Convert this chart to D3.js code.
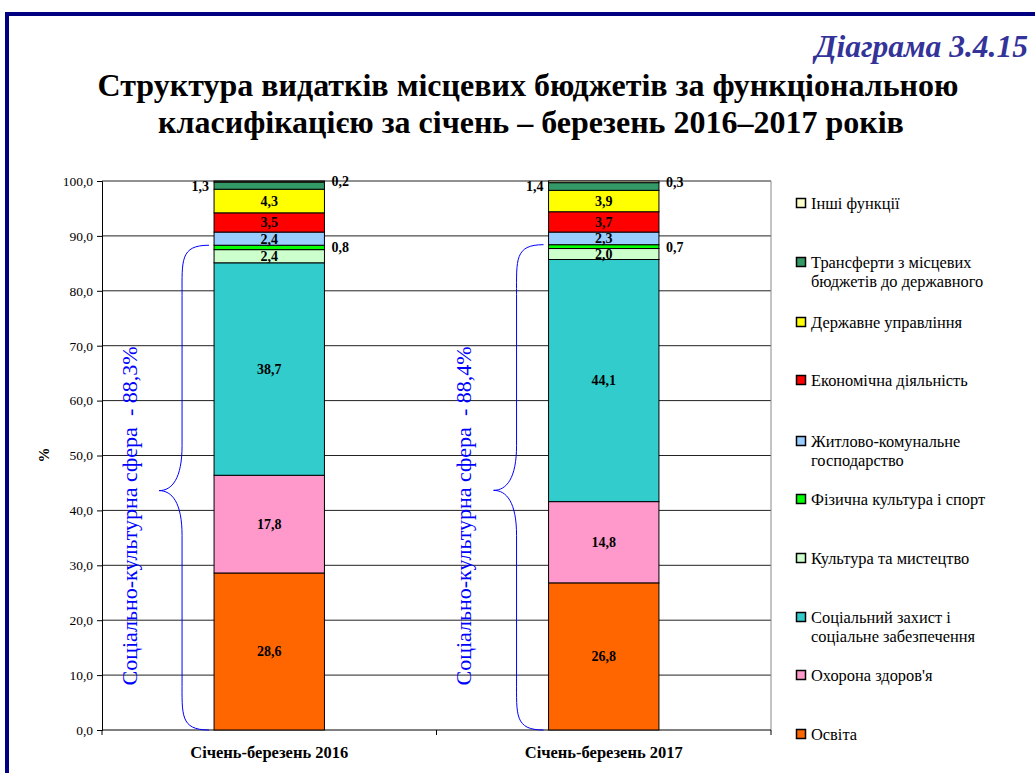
<!DOCTYPE html>
<html><head><meta charset="utf-8">
<script src="https://cdn.jsdelivr.net/npm/d3@7"></script>
<style>body{margin:0;background:#fff}svg{display:block}</style>
</head><body><svg id="c" width="1035" height="773"></svg>
<script>
const categories = ["Січень-березень 2016", "Січень-березень 2017"];
const seriesNames = ["Освіта","Охорона здоров'я","Соціальний захист і соціальне забезпечення","Культура та мистецтво","Фізична культура і спорт","Житлово-комунальне господарство","Економічна діяльність","Державне управління","Трансферти з місцевих бюджетів до державного","Інші функції"];
const values2016 = [28.6,17.8,38.7,2.4,0.8,2.4,3.5,4.3,1.3,0.2];
const values2017 = [26.8,14.8,44.1,2.0,0.7,2.3,3.7,3.9,1.4,0.3];
const colors = ["#FF6600","#FF99CC","#33CCCC","#CCFFCC","#00FF00","#99CCFF","#FF0000","#FFFF00","#339966","#FFFFCC"];
const yTicks = [0,10,20,30,40,50,60,70,80,90,100];
const sphereLabels = ["Соціально-культурна сфера  - 88,3%","Соціально-культурна сфера  - 88,4%"];
const sphereTotals = [88.3, 88.4];
const legendLines = [["Інші функції"],["Трансферти з місцевих","бюджетів до державного"],["Державне управління"],["Економічна діяльність"],["Житлово-комунальне","господарство"],["Фізична культура і спорт"],["Культура та мистецтво"],["Соціальний захист і","соціальне забезпечення"],["Охорона здоров'я"],["Освіта"]];

const FONT = "Liberation Serif";
const svg = d3.select("#c");
function T(sel){ return sel.append("text").attr("font-family",FONT); }
// frame
svg.append("line").attr("x1",5).attr("x2",1035).attr("y1",14).attr("y2",14).attr("stroke","#000080").attr("stroke-width",4);
svg.append("line").attr("x1",7).attr("x2",7).attr("y1",12).attr("y2",773).attr("stroke","#000080").attr("stroke-width",4);

T(svg).attr("x",1028).attr("y",57).attr("text-anchor","end").attr("font-size",31.5).attr("font-weight","bold").attr("font-style","italic").attr("fill","#333399").text("Діаграма 3.4.15");
T(svg).attr("x",528).attr("y",96).attr("text-anchor","middle").attr("font-size",32).attr("font-weight","bold").text("Структура видатків місцевих бюджетів за функціональною");
T(svg).attr("x",531).attr("y",133).attr("text-anchor","middle").attr("font-size",32).attr("font-weight","bold").text("класифікацією за січень – березень 2016–2017 років");

const x0 = 102, x1 = 771;
const x = d3.scaleBand().domain(categories).range([x0,x1]).paddingInner(0.67).paddingOuter(0.335);
const y = d3.scaleLinear().domain([0,100]).range([730,181]);
const fmt = v => v.toFixed(1).replace(".",",");

// gridlines
svg.append("g").selectAll("line").data(yTicks.filter(t=>t>0)).join("line")
  .attr("x1",x0).attr("x2",x1).attr("y1",d=>y(d)).attr("y2",d=>y(d)).attr("stroke","#222").attr("stroke-width",1);
svg.append("line").attr("x1",x1).attr("x2",x1).attr("y1",y(100)).attr("y2",y(0)).attr("stroke","#888");

// y axis
const yAxis = d3.axisLeft(y).tickValues(yTicks).tickFormat(fmt).tickSize(5).tickPadding(4);
const ga = svg.append("g").attr("transform",`translate(${x0},0)`).call(yAxis).attr("font-family",FONT);
ga.selectAll("text").attr("font-size",13.5).attr("fill","#000").attr("font-family",FONT);
ga.select(".domain").attr("stroke","#000");
// x axis
const gx = svg.append("g").attr("transform",`translate(0,${y(0)})`);
gx.append("line").attr("x1",x0).attr("x2",x1).attr("stroke","#000");
gx.selectAll("line.t").data([x0,(x0+x1)/2,x1]).join("line").attr("class","t").attr("x1",d=>d).attr("x2",d=>d).attr("y1",0).attr("y2",5).attr("stroke","#000");
categories.forEach(c=>{
  T(gx).attr("x",x(c)+x.bandwidth()/2).attr("y",28).attr("text-anchor","middle").attr("font-size",16.5).attr("font-weight","bold").text(c);
});

T(svg).attr("transform","translate(49,455) rotate(-90)").attr("text-anchor","middle").attr("font-size",15).attr("font-weight","bold").text("%");

// bars
const all = [values2016, values2017];
all.forEach((vals,ci)=>{
  const cat = categories[ci];
  const stack = d3.cumsum(vals);
  const g = svg.append("g");
  const bx = x(cat), bw = x.bandwidth();
  vals.forEach((v,i)=>{
    const top = stack[i], bot = top - v;
    g.append("rect").attr("x",bx).attr("width",bw).attr("y",y(top)).attr("height",y(bot)-y(top))
      .attr("fill",colors[i]).attr("stroke","#000").attr("stroke-width",1);
  });
  vals.forEach((v,i)=>{
    const top = stack[i], bot = top - v, mid = y((top+bot)/2);
    let tx = bx+bw/2, anchor="middle";
    if (i===8) { tx = bx-5; anchor="end"; }
    else if (i===9) { tx = bx+bw+7; anchor="start"; }
    else if (i===4) { tx = bx+bw+7; anchor="start"; }
    T(g).attr("x",tx).attr("y",mid).attr("dy","0.35em").attr("text-anchor",anchor)
      .attr("font-size",14).attr("font-weight","bold").text(fmt(v));
  });
  // brace
  const bxr = bx - 5, tipX = bx - 55, vx = bx - 32;
  const yt = y(sphereTotals[ci]), yb = y(0), ym = (yt+yb)/2 + 3;
  const p = d3.path();
  p.moveTo(bxr, yt);
  p.bezierCurveTo(vx-2, yt, vx, yt+15, vx, yt+50);
  p.lineTo(vx, ym-45);
  p.bezierCurveTo(vx, ym-12, vx-10, ym, tipX, ym);
  p.bezierCurveTo(vx-10, ym, vx, ym+12, vx, ym+45);
  p.lineTo(vx, yb-50);
  p.bezierCurveTo(vx, yb-15, vx-2, yb, bxr, yb);
  svg.append("path").attr("d",p.toString()).attr("fill","none").attr("stroke","#0000FF").attr("stroke-width",1);
  T(svg).attr("transform",`translate(${bx-85},516) rotate(-90)`).attr("text-anchor","middle").attr("dy","0.35em")
    .attr("font-size",22).attr("fill","#0000FF").style("white-space","pre").text(sphereLabels[ci]);
});

// legend
const legY = [209,268,328,386,447,505,564,623,681,740];
const order = [9,8,7,6,5,4,3,2,1,0];
const lg = svg.append("g");
order.forEach((si,k)=>{
  const yy = legY[k];
  lg.append("rect").attr("x",796.5).attr("y",yy-10.5).attr("width",9).attr("height",9).attr("fill",colors[si]).attr("stroke","#000").attr("stroke-width",1.5);
  legendLines[k].forEach((ln,j)=>{
    T(lg).attr("x",811).attr("y",yy+j*19).attr("font-size",16.4).text(ln);
  });
});
</script></body></html>
